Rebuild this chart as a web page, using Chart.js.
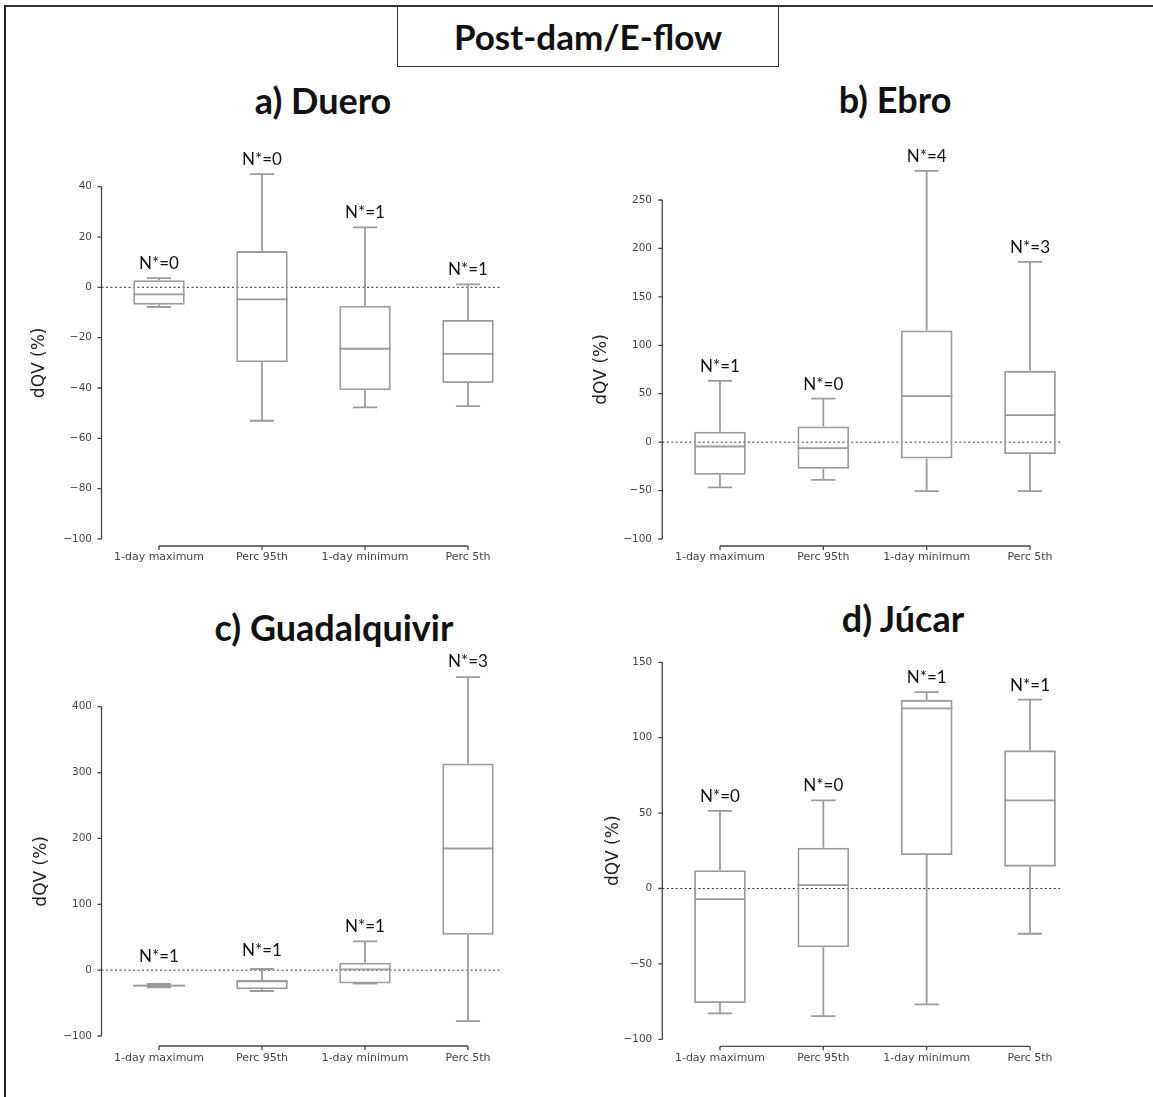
<!DOCTYPE html>
<html>
<head>
<meta charset="utf-8">
<script src="https://cdn.jsdelivr.net/npm/chart.js@4.4.0/dist/chart.umd.min.js"></script>
<style>
  body { margin: 0; background: #fff; }
  #page { position: relative; width: 1153px; height: 1097px; overflow: hidden; background: #fff; }
  #frame { position: absolute; left: 4px; top: 5px; width: 1200px; height: 1200px;
           border-left: 2px solid #222; border-top: 2px solid #333; }
  #mainTitle { position: absolute; left: 397px; top: 6px; width: 380px; height: 59px;
               border: 1.5px solid #333; font: bold 35px Lato; line-height: 59px;
               text-align: center; color: #111; }
  .ptitle { position: absolute; font: bold 36px Lato; line-height: 36px; color: #111;
            white-space: nowrap; transform: translateX(-50%); }
  .panel { position: absolute; }
</style>
</head>
<body>
<div id="page">
  <div id="frame"></div>
  <div id="mainTitle">Post-dam/E-flow</div>
  <div class="ptitle" style="left:323px; top:82px;">a) Duero</div>
  <div class="ptitle" style="left:895px; top:81px;">b) Ebro</div>
  <div class="ptitle" style="left:334px; top:609px;">c) Guadalquivir</div>
  <div class="ptitle" style="left:903px; top:600px;">d) Júcar</div>
  <div class="panel" id="pa"><canvas id="ca"></canvas></div>
  <div class="panel" id="pb"><canvas id="cb"></canvas></div>
  <div class="panel" id="pc"><canvas id="cc"></canvas></div>
  <div class="panel" id="pd"><canvas id="cd"></canvas></div>
</div>
<script>
// categories on the x axis
const categories = ['1-day maximum', 'Perc 95th', '1-day minimum', 'Perc 5th'];

// a) Duero
const dueroMin = [-7.8, -53, -47.7, -47.2];
const dueroQ1 = [-6.9, -29.8, -40.9, -38];
const dueroMedian = [-2.8, -4.8, -24.4, -26.4];
const dueroQ3 = [2.8, 14.4, -7.3, -13];
const dueroMax = [3.7, 45, 23.8, 1.2];
const dueroN = [0, 0, 1, 1];
const dueroTicks = [-100, 40, 20];

// b) Ebro
const ebroMin = [-46.8, -38.9, -50.6, -50.6];
const ebroQ1 = [-33.7, -27.5, -16.9, -12.4];
const ebroMedian = [-4.5, -6.2, 47.5, 27.9];
const ebroQ3 = [10.7, 16.2, 115.3, 73.6];
const ebroMax = [63.3, 45, 280, 186.2];
const ebroN = [1, 0, 4, 3];
const ebroTicks = [-100, 250, 50];

// c) Guadalquivir
const guadMin = [-26, -31.7, -20.5, -77.4];
const guadQ1 = [-25, -29, -20.2, 53.6];
const guadMedian = [-23.5, -17, 1.2, 184.7];
const guadQ3 = [-22, -15, 11.2, 313.8];
const guadMax = [-21, 1.7, 43.7, 444.8];
const guadN = [1, 1, 1, 3];
const guadTicks = [-100, 400, 100];

// d) Júcar
const jucarMin = [-82.8, -84.6, -76.9, -30];
const jucarQ1 = [-76, -39, 22.2, 14.5];
const jucarMedian = [-7, 2.2, 119.4, 58.4];
const jucarQ3 = [12.1, 27.1, 125.1, 91.6];
const jucarMax = [51.5, 58.4, 130.2, 125.3];
const jucarN = [0, 0, 1, 1];
const jucarTicks = [-100, 150, 50];

const BOX = '#9b9b9b';
const SPINE = '#444';

// whiskers, medians, N* labels and the offset spines, all placed with the chart's scales
function boxPlugin(st, lay) {
  return {
    id: 'boxExtras',
    beforeDatasetsDraw(chart) {
      const { ctx, chartArea, scales: { x, y } } = chart;
      const y0 = y.getPixelForValue(0);
      ctx.save();
      ctx.strokeStyle = '#333';
      ctx.lineWidth = 1;
      ctx.setLineDash([2, 2.5]);
      ctx.beginPath();
      ctx.moveTo(chartArea.left - 6, y0);
      ctx.lineTo(x.getPixelForValue(categories.length - 1) + 32, y0);
      ctx.stroke();
      ctx.restore();
    },
    afterDatasetsDraw(chart) {
      const { ctx, chartArea, scales: { x, y } } = chart;
      const bars = chart.getDatasetMeta(0).data;
      ctx.save();
      ctx.strokeStyle = BOX;
      ctx.lineWidth = 1.8;
      categories.forEach((c, i) => {
        const cx = x.getPixelForValue(i);
        const half = bars[i].width / 2;
        const cap = half * 0.47;
        const yMax = y.getPixelForValue(st.max[i]);
        const yMin = y.getPixelForValue(st.min[i]);
        const yQ1 = y.getPixelForValue(st.q1[i]);
        const yQ3 = y.getPixelForValue(st.q3[i]);
        const yMed = y.getPixelForValue(st.median[i]);
        ctx.beginPath();
        ctx.moveTo(cx, yQ3); ctx.lineTo(cx, yMax);
        ctx.moveTo(cx, yQ1); ctx.lineTo(cx, yMin);
        ctx.moveTo(cx - cap, yMax); ctx.lineTo(cx + cap, yMax);
        ctx.moveTo(cx - cap, yMin); ctx.lineTo(cx + cap, yMin);
        ctx.moveTo(cx - half, yMed); ctx.lineTo(cx + half, yMed);
        ctx.stroke();
        ctx.fillStyle = '#111';
        ctx.font = '17px Lato';
        ctx.textAlign = 'center';
        ctx.textBaseline = 'alphabetic';
        ctx.fillText('N*=' + st.n[i], cx, yMax - (lay.lift ? lay.lift[i] : 9));
      });
      // offset spines
      ctx.strokeStyle = SPINE;
      ctx.lineWidth = 1.3;
      const xs = chartArea.left - 6;
      const yb = chartArea.bottom + lay.gap;
      ctx.beginPath();
      ctx.moveTo(xs, y.getPixelForValue(y.max));
      ctx.lineTo(xs, y.getPixelForValue(y.min));
      y.ticks.forEach(t => {
        const py = y.getPixelForValue(t.value);
        ctx.moveTo(xs - 4, py); ctx.lineTo(xs, py);
      });
      ctx.moveTo(x.getPixelForValue(0), yb);
      ctx.lineTo(x.getPixelForValue(categories.length - 1), yb);
      categories.forEach((c, i) => {
        const px = x.getPixelForValue(i);
        ctx.moveTo(px, yb); ctx.lineTo(px, yb + 4);
      });
      ctx.stroke();
      ctx.restore();
    }
  };
}

function makePanel(divId, canvasId, lay, st, ticks) {
  const div = document.getElementById(divId);
  div.style.left = lay.left + 'px';
  div.style.top = lay.top + 'px';
  const canvas = document.getElementById(canvasId);
  canvas.width = lay.width;
  canvas.height = lay.height;
  new Chart(canvas, {
    type: 'bar',
    data: {
      labels: categories,
      datasets: [{
        data: st.q1.map((v, i) => [st.q1[i], st.q3[i]]),
        backgroundColor: 'rgba(0,0,0,0)',
        borderColor: BOX,
        borderWidth: 1.8,
        borderSkipped: false,
        barPercentage: 0.5,
        categoryPercentage: 1.0,
        clip: false
      }]
    },
    options: {
      responsive: false,
      animation: false,
      events: [],
      layout: {
        padding: {
          left: 0,
          top: lay.area.t - lay.top,
          right: lay.left + lay.width - lay.area.r,
          bottom: lay.top + lay.height - lay.area.b - 30
        }
      },
      plugins: { legend: { display: false }, tooltip: { enabled: false } },
      scales: {
        x: {
          offset: true,
          grid: { display: false, drawTicks: false },
          border: { display: false },
          ticks: { font: { family: 'DejaVu Sans', size: 11 }, color: '#444',
                   padding: lay.xLabel - 6.6, maxRotation: 0, autoSkip: false },
          afterFit: s => { s.height = 30; }
        },
        y: {
          min: ticks[0],
          max: ticks[1],
          grid: { display: false, drawTicks: false },
          border: { display: false },
          ticks: {
            stepSize: ticks[2],
            font: { family: 'DejaVu Sans', size: 10.5 },
            color: '#444',
            padding: lay.yLabel,
            callback: v => String(v).replace('-', '\u2212')
          },
          title: {
            display: true,
            text: 'dQV (%)',
            font: { family: 'DejaVu Sans', size: 17 },
            color: '#222',
            padding: { top: lay.titleX - 10.2, bottom: 0 }
          },
          afterFit: s => { s.width = lay.area.l - lay.left; }
        }
      }
    },
    plugins: [boxPlugin(st, lay)]
  });
}

makePanel('pa', 'ca',
  { left: 0, top: 130, width: 576, height: 450, area: { l: 107.5, t: 186.7, r: 519.5, b: 539 },
    gap: 7, xLabel: 18, yLabel: 15.5, titleX: 40 },
  { min: dueroMin, q1: dueroQ1, median: dueroMedian, q3: dueroQ3, max: dueroMax, n: dueroN },
  dueroTicks);

makePanel('pb', 'cb',
  { left: 576, top: 130, width: 577, height: 450, area: { l: 668.3, t: 200, r: 1081.7, b: 539 },
    gap: 7, xLabel: 18, yLabel: 16.3, titleX: 26 },
  { min: ebroMin, q1: ebroQ1, median: ebroMedian, q3: ebroQ3, max: ebroMax, n: ebroN },
  ebroTicks);

makePanel('pc', 'cc',
  { left: 0, top: 640, width: 576, height: 457, area: { l: 107.5, t: 706.7, r: 519.5, b: 1036 },
    gap: 10, xLabel: 22, yLabel: 15.5, titleX: 42, lift: [22, 13, 9, 10] },
  { min: guadMin, q1: guadQ1, median: guadMedian, q3: guadQ3, max: guadMax, n: guadN },
  guadTicks);

makePanel('pd', 'cd',
  { left: 576, top: 640, width: 577, height: 457, area: { l: 668.3, t: 661, r: 1081.7, b: 1039.3 },
    gap: 7, xLabel: 19, yLabel: 16, titleX: 38 },
  { min: jucarMin, q1: jucarQ1, median: jucarMedian, q3: jucarQ3, max: jucarMax, n: jucarN },
  jucarTicks);
</script>
</body>
</html>
